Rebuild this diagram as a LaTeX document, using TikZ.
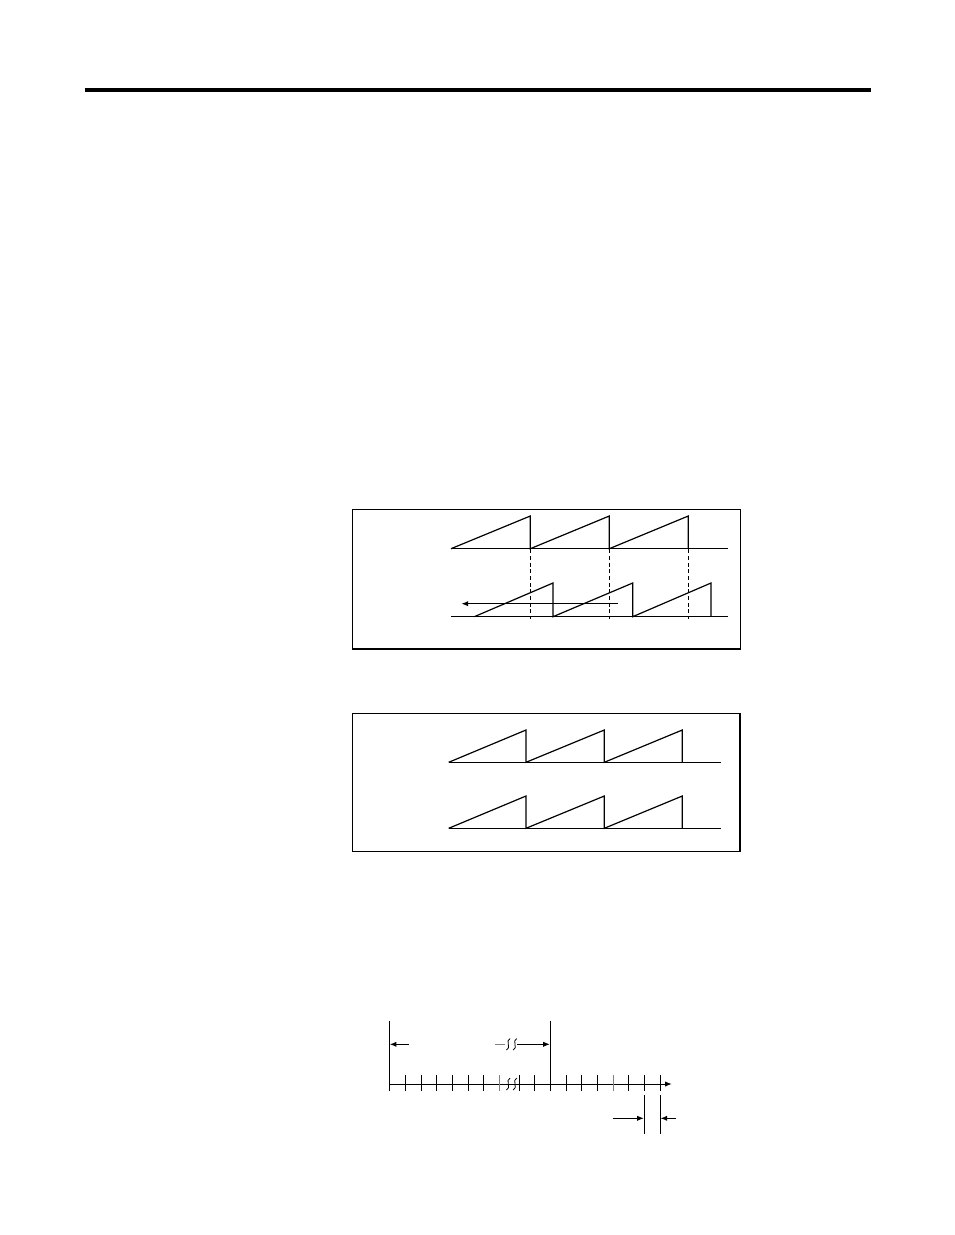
\documentclass[tikz,border=0pt]{standalone}
\usetikzlibrary{arrows.meta}
\tikzset{
  wave/.style={line width=0.9pt, line join=miter},
  frame/.style={line width=0.9pt},
  guide/.style={line width=0.75pt, dash pattern=on 3pt off 2pt},
  dimline/.style={line width=0.75pt},
  tip/.style={-{Latex[length=5pt,width=4pt]}},
  tick/.style={line width=0.75pt},
  brk/.style={line width=0.6pt, gray}
}
\begin{document}
\begin{tikzpicture}[x=0.75pt,y=-0.75pt]
\useasboundingbox (0,0) rectangle (954,1235);
% top rule
\draw[line width=2.4pt] (85,90) -- (871,90);

% ---------- box 1 ----------
\draw[frame] (352.7,509.7) rectangle (740.5,649);
% upper wave
\draw[wave] (451,548.7) -- (727.7,548.7);
\draw[wave] (451,548.7) -- (530.3,516) -- (530.3,548.7) -- (609.3,516) -- (609.3,548.7) -- (688.3,516) -- (688.3,548.7);
% lower wave
\draw[wave] (451,616.7) -- (727.7,616.7);
\draw[wave] (474.3,616.7) -- (553,583) -- (553,616.7) -- (632.7,583) -- (632.7,616.7) -- (711,583) -- (711,616.7);
% dashed guides
\foreach \x in {530.3,609.3,688.3}
  \draw[guide] (\x,516) -- (\x,618.5);
% shift arrow
\coordinate (sA) at (618.3,603.7);
\coordinate (sB) at (461.5,603.7);
\draw[dimline,tip] (sA) -- (sB);

% ---------- box 2 ----------
\draw[frame] (352.7,713.3) rectangle (740,851.7);
\foreach \yb/\yp in {762.3/730, 828.3/796}{
  \draw[wave] (448.7,\yb) -- (720.7,\yb);
  \draw[wave] (448.7,\yb) -- (526,\yp) -- (526,\yb) -- (604.3,\yp) -- (604.3,\yb) -- (682.3,\yp) -- (682.3,\yb);
}

% ---------- timeline ----------
\coordinate (ax0) at (389.3,1084);
\coordinate (ax1) at (671.7,1084);
\draw[dimline,tip] (ax0) -- (ax1);
\foreach \x in {389.3,405.3,421,436.7,452.3,468,483.7,519.3,534.3,550.3,566,581.7,597.3,628.7,644.3,660}
  \draw[tick] (\x,1075) -- (\x,1091);
\foreach \x in {499.3,613}
  \draw[tick,gray] (\x,1075) -- (\x,1091);
% breaks on axis
\foreach \x in {508.3,515}
  \draw[brk, black] (\x+1.8,1078) .. controls (\x-3.5,1080) and (\x+3.5,1088) .. (\x-1.8,1090);
% tall verticals
\coordinate (v1t) at (389.3,1021);
\coordinate (v1b) at (389.3,1091);
\coordinate (v2t) at (550.3,1021);
\coordinate (v2b) at (550.3,1091);
\draw[tick] (v1t) -- (v1b);
\draw[tick] (v2t) -- (v2b);
% upper dimension
\coordinate (d1) at (409.3,1044.3);
\draw[dimline,tip] (d1) -- (389.8,1044.3);
\draw[dimline,gray] (495,1044.3) -- (504.5,1044.3);
\foreach \x in {508.3,515}
  \draw[brk, black] (\x+1.8,1038.5) .. controls (\x-3.5,1040.5) and (\x+3.5,1048) .. (\x-1.8,1050);
\coordinate (d2) at (517,1044.3);
\draw[dimline,tip] (d2) -- (549.8,1044.3);
% lower dimension
\coordinate (w1t) at (644.3,1095);
\coordinate (w1b) at (644.3,1134);
\coordinate (w2t) at (660,1095);
\coordinate (w2b) at (660,1134);
\draw[tick] (w1t) -- (w1b);
\draw[tick] (w2t) -- (w2b);
\coordinate (e1) at (612.7,1118.3);
\coordinate (e2) at (676,1118.3);
\draw[dimline,tip] (e1) -- (643.8,1118.3);
\draw[dimline,tip] (e2) -- (660.5,1118.3);
\end{tikzpicture}
\end{document}
